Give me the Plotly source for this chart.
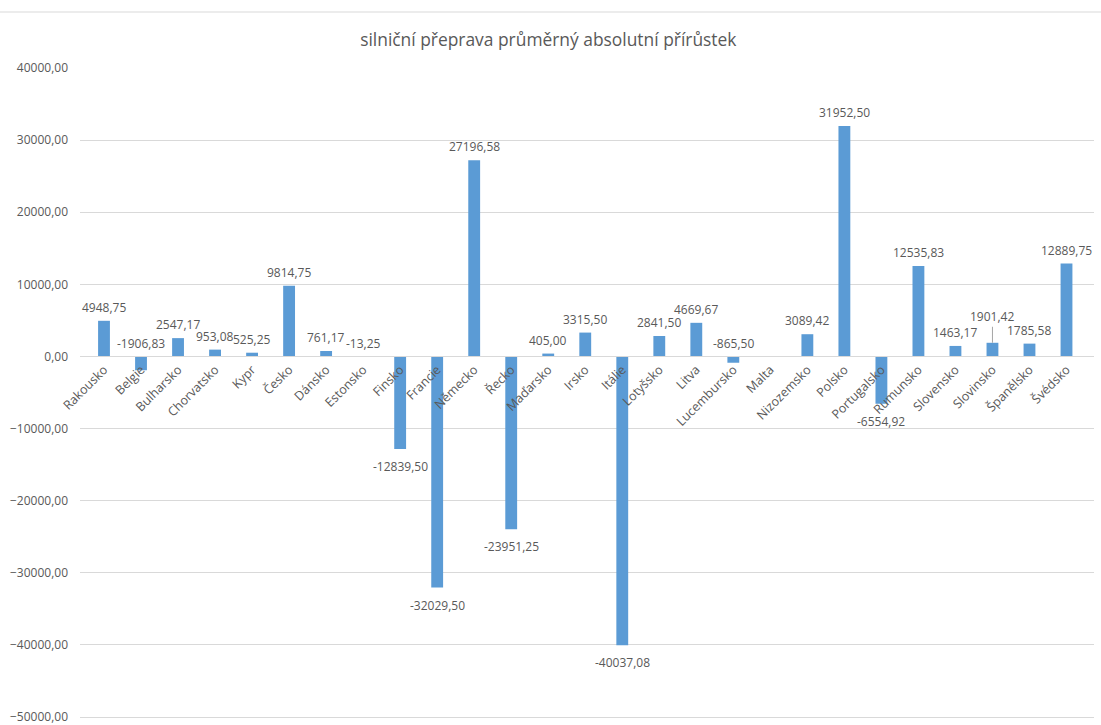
import plotly.graph_objects as go

# Průměrný absolutní přírůstek silniční přepravy podle zemí
countries = [
    "Rakousko", "Belgie", "Bulharsko", "Chorvatsko", "Kypr", "Česko", "Dánsko",
    "Estonsko", "Finsko", "Francie", "Německo", "Řecko", "Maďarsko", "Irsko",
    "Itálie", "Lotyšsko", "Litva", "Lucembursko", "Malta", "Nizozemsko",
    "Polsko", "Portugalsko", "Rumunsko", "Slovensko", "Slovinsko", "Španělsko",
    "Švédsko",
]
values = [
    4948.75, -1906.83, 2547.17, 953.08, 525.25, 9814.75, 761.17,
    -13.25, -12839.50, -32029.50, 27196.58, -23951.25, 405.00, 3315.50,
    -40037.08, 2841.50, 4669.67, -865.50, None, 3089.42,
    31952.50, -6554.92, 12535.83, 1463.17, 1901.42, 1785.58,
    12889.75,
]
# small negative values whose labels sit above the axis
labels_above_axis = {"Belgie", "Estonsko", "Lucembursko"}
# labels lifted away from the bar with a leader line
labels_with_leader = {"Slovinsko"}

y_min, y_max = -50400, 40000

TEXT = "#595959"
GRID = "#d9d9d9"
BAR = "#5B9BD5"
FONT = "Open Sans"
FS = 12


def fmt(v):
    return f"{v:.2f}".replace(".", ",")


fig = go.Figure(
    go.Bar(
        x=countries,
        y=values,
        marker=dict(color=BAR, line=dict(width=0)),
        hoverinfo="skip",
    )
)

annotations = []
for c, v in zip(countries, values):
    if v is None:
        continue
    if c in labels_with_leader:
        annotations.append(dict(
            x=c, y=v, xref="x", yref="y", text=fmt(v),
            showarrow=True, arrowhead=0, arrowwidth=1, arrowcolor="#a6a6a6",
            ax=0, ay=-26, standoff=0,
            font=dict(family=FONT, size=FS, color=TEXT),
        ))
    elif v >= 0 or c in labels_above_axis:
        annotations.append(dict(
            x=c, y=max(v, 0), xref="x", yref="y", text=fmt(v),
            showarrow=False, yanchor="bottom", yshift=3,
            font=dict(family=FONT, size=FS, color=TEXT),
        ))
    else:
        annotations.append(dict(
            x=c, y=v, xref="x", yref="y", text=fmt(v),
            showarrow=False, yanchor="top", yshift=-7,
            font=dict(family=FONT, size=FS, color=TEXT),
        ))

zero_pos = (0 - y_min) / (y_max - y_min)
plot_h = 725 - 68 - 5

fig.update_layout(
    width=1101,
    height=725,
    margin=dict(l=80, r=7, t=68, b=5),
    paper_bgcolor="white",
    plot_bgcolor="white",
    separators=", ",
    bargap=0.68,
    showlegend=False,
    font=dict(family=FONT, size=FS, color=TEXT),
    title=dict(
        text="silniční přeprava průměrný absolutní přírůstek",
        x=0.498, xanchor="center",
        y=1 - 40 / 725, yanchor="middle",
        font=dict(family=FONT, size=17.4, color=TEXT),
    ),
    xaxis=dict(
        anchor="free",
        position=zero_pos,
        tickangle=-45,
        showgrid=False,
        showline=True,
        linecolor=GRID,
        linewidth=1,
        ticks="",
        automargin=False,
        layer="above traces",
        tickfont=dict(family=FONT, size=12.5, color=TEXT),
    ),
    yaxis=dict(
        range=[y_min, y_max],
        dtick=10000,
        tick0=0,
        tickformat=".2f",
        showgrid=True,
        gridcolor=GRID,
        gridwidth=1,
        zeroline=True,
        zerolinecolor=GRID,
        zerolinewidth=1,
        showline=False,
        ticks="",
        ticklen=0,
        ticklabelstandoff=11,
        ticklabeloverflow="allow",
        automargin=False,
        tickfont=dict(family=FONT, size=FS, color=TEXT),
        layer="below traces",
    ),
    annotations=annotations,
    shapes=[dict(
        type="line", xref="paper", yref="paper",
        x0=-80 / 1014, x1=1.01, y0=1 + 56 / plot_h, y1=1 + 56 / plot_h,
        line=dict(color="#d9d9d9", width=1),
    )],
)

fig.write_html("out.html")
